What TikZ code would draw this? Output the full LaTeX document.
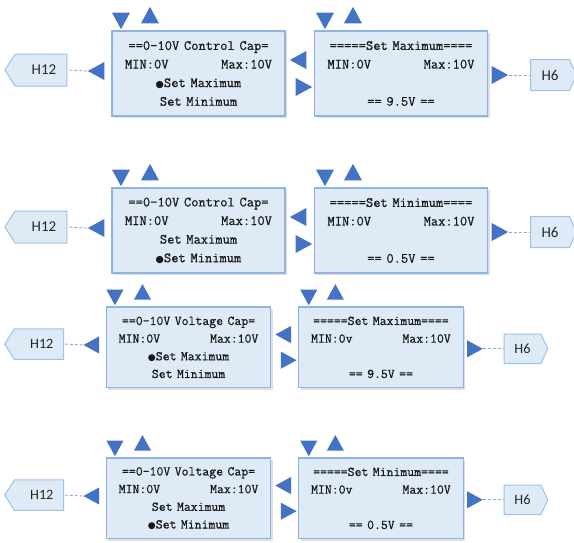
\documentclass[tikz,border=0pt]{standalone}
\usepackage{fontspec}
\newfontfamily\tagfont{Carlito}
\newfontfamily\screenfont[FakeBold=0.7]{Latin Modern Mono}
\newfontfamily\dotfont{DejaVu Sans}
\usetikzlibrary{shapes.geometric,shapes.symbols,shadows}
\definecolor{boxfill}{RGB}{222,235,247}
\definecolor{boxline}{RGB}{143,180,227}
\definecolor{tagline}{RGB}{157,195,230}
\definecolor{triblue}{RGB}{68,114,196}
\definecolor{linkblue}{RGB}{143,170,220}
\tikzset{
  menubox/.style={
    rectangle,
    fill=boxfill,
    draw=boxline,
    line width=1.2pt,
    minimum width=173pt,
    minimum height=85pt,
    inner sep=0pt,
    text width=147pt,
    align=center,
    text=black!90,
    font=\screenfont\fontsize{14.1}{18.6}\selectfont,
    drop shadow={opacity=0.25, shadow xshift=2pt, shadow yshift=-2pt}
  },
  tri/.style={
    isosceles triangle,
    isosceles triangle stretches,
    minimum width=18pt,
    minimum height=16.5pt,
    inner sep=0pt,
    fill=triblue
  },
  tri-up/.style={tri, rotate=90},
  tri-down/.style={tri, rotate=-90},
  tri-left/.style={tri, rotate=180},
  tri-right/.style={tri},
  tag/.style={
    signal,
    signal from=nowhere,
    fill=boxfill,
    draw=tagline,
    line width=1pt,
    inner sep=0pt,
    text=black!85,
    font=\tagfont\fontsize{15}{18}\selectfont
  },
  tag-left/.style={tag, signal to=west, signal pointer angle=115,
    minimum width=62pt, minimum height=32pt},
  tag-right/.style={tag, signal to=east, signal pointer angle=130,
    minimum width=46pt, minimum height=31pt},
  link/.style={draw=linkblue, line width=0.9pt, dash pattern=on 3pt off 2pt}
}
\newcommand{\sel}{{\dotfont\fontsize{9.5}{9.5}\selectfont ●}}
% one row: H12 tag, menu screen, value screen, H6 tag
\newcommand{\menurow}[3]{%
  \node[menubox] (#1L) at (198.5,42.5) {#2};
  \node[menubox] (#1R) at (401,42.5) {#3};
  \node[tri-down] (#1Ldn) at (121,-13) {};
  \node[tri-up] (#1Lup) at (150,-13) {};
  \node[tri-down] (#1Rdn) at (325,-13) {};
  \node[tri-up] (#1Rup) at (353,-13) {};
  \node[tri-left] (#1back) at (99,40) {};
  \node[tri-left] (#1prev) at (301,29) {};
  \node[tri-right] (#1next) at (301,56) {};
  \node[tri-right] (#1ok) at (497,44) {};
  \node[tag-left] (#1H12) at (41,39) {\hspace{6pt}H12};
  \node[tag-right] (#1H6) at (550,44) {H6};
  \draw[link] (#1back.apex) -- (#1H12.east);
  \draw[link] (#1ok.apex) -- (#1H6.west);
}

\begin{document}
\begin{tikzpicture}[x=1pt, y=-1pt]
  \useasboundingbox (0,0) rectangle (574,542);
  \begin{scope}[shift={(0,31)}]
    \menurow{a}
      {==0-10V Control Cap=\\ MIN:0V\hfill Max:10V\\ \sel Set Maximum\\ Set Minimum}
      {=====Set Maximum====\\ MIN:0V\hfill Max:10V\\ \mbox{}\\ == 9.5V ==}
  \end{scope}
  \begin{scope}[shift={(0,188)}]
    \menurow{b}
      {==0-10V Control Cap=\\ MIN:0V\hfill Max:10V\\ Set Maximum\\ \sel Set Minimum}
      {=====Set Minimum====\\ MIN:0V\hfill Max:10V\\ \mbox{}\\ == 0.5V ==}
  \end{scope}
  \begin{scope}[shift={(0,307)}, scale=0.95, transform shape]
    \menurow{c}
      {==0-10V Voltage Cap=\\ MIN:0V\hfill Max:10V\\ \sel Set Maximum\\ Set Minimum}
      {=====Set Maximum====\\ MIN:0v\hfill Max:10V\\ \mbox{}\\ == 9.5V ==}
  \end{scope}
  \begin{scope}[shift={(0,458)}, scale=0.95, transform shape]
    \menurow{d}
      {==0-10V Voltage Cap=\\ MIN:0V\hfill Max:10V\\ Set Maximum\\ \sel Set Minimum}
      {=====Set Minimum====\\ MIN:0v\hfill Max:10V\\ \mbox{}\\ == 0.5V ==}
  \end{scope}
\end{tikzpicture}
\end{document}
